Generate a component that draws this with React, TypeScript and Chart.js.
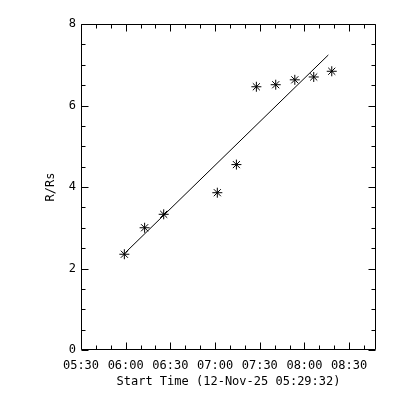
import React, { useEffect, useRef } from "react";
import { Chart, registerables } from "chart.js";

Chart.register(...registerables);

// x values are minutes after 05:30 on 12-Nov-25
const timeLabels = ["05:30", "06:00", "06:30", "07:00", "07:30", "08:00", "08:30"];
const obsMinutes = [29.1, 42.7, 55.5, 91.5, 104.3, 117.7, 130.7, 143.5, 156.2, 168.3];
const heights = [2.35, 3.0, 3.33, 3.86, 4.55, 6.46, 6.51, 6.63, 6.7, 6.84];
const fitMinutes = [29.8, 166.0];
const fitHeights = [2.39, 7.24];
const xMin = 0;
const xMax = 198;
const yMin = 0;
const yMax = 8;

const FONT = '"DejaVu Sans Mono", monospace';

const boxTicks = {
  id: "boxTicks",
  afterDraw(chart: any) {
    const { ctx, chartArea, scales } = chart;
    const { left, right, top, bottom } = chartArea;
    const xs = scales.x;
    const ys = scales.y;
    const L = Math.round(left) + 0.5;
    const R = Math.round(right) - 0.5;
    const T = Math.round(top) + 0.5;
    const B = Math.round(bottom) - 0.5;
    ctx.save();
    ctx.strokeStyle = "#000";
    ctx.lineWidth = 1;
    ctx.beginPath();
    ctx.rect(L, T, R - L, B - T);
    for (let m = xMin; m <= xMax + 0.001; m += 10) {
      const px = Math.round(xs.getPixelForValue(m)) + 0.5;
      const len = m % 30 === 0 ? 7 : 4;
      ctx.moveTo(px, B);
      ctx.lineTo(px, B - len);
      ctx.moveTo(px, T);
      ctx.lineTo(px, T + len);
    }
    for (let v = yMin; v <= yMax + 0.001; v += 0.5) {
      const py = Math.round(ys.getPixelForValue(v)) + 0.5;
      const len = v % 2 === 0 ? 7 : 4;
      ctx.moveTo(L, py);
      ctx.lineTo(L + len, py);
      ctx.moveTo(R, py);
      ctx.lineTo(R - len, py);
    }
    ctx.stroke();
    ctx.restore();
  },
};

export default function App() {
  const ref = useRef<HTMLCanvasElement>(null);
  useEffect(() => {
    if (!ref.current) return;
    const chart = new Chart(ref.current, {
      type: "scatter",
      data: {
        datasets: [
          {
            label: "fit",
            data: fitMinutes.map((m, i) => ({ x: m, y: fitHeights[i] })),
            showLine: true,
            borderColor: "#000",
            borderWidth: 1,
            pointRadius: 0,
            fill: false,
          },
          {
            label: "R/Rs",
            data: obsMinutes.map((m, i) => ({ x: m, y: heights[i] })),
            showLine: false,
            pointStyle: "star",
            pointRadius: 5,
            borderColor: "#000",
            backgroundColor: "#000",
            borderWidth: 1,
          },
        ],
      },
      options: {
        responsive: false,
        animation: false,
        layout: { padding: { left: 0, top: 24, right: 24, bottom: 0 } },
        plugins: { legend: { display: false }, tooltip: { enabled: false } },
        scales: {
          x: {
            type: "linear",
            min: xMin,
            max: xMax,
            grid: { display: false, drawTicks: false },
            border: { display: false },
            ticks: {
              stepSize: 30,
              includeBounds: false,
              autoSkip: false,
              maxRotation: 0,
              padding: 9,
              color: "#000",
              font: { family: FONT, size: 12 },
              callback: (v: any) => {
                const n = Number(v);
                return n % 30 === 0 ? timeLabels[n / 30] ?? "" : "";
              },
            },
            title: {
              display: true,
              text: "Start Time (12-Nov-25 05:29:32)",
              color: "#000",
              font: { family: FONT, size: 12 },
              padding: { top: 0, bottom: 11 },
            },
            afterFit: (s: any) => {
              s.height = 50;
            },
          },
          y: {
            min: yMin,
            max: yMax,
            grid: { display: false, drawTicks: false },
            border: { display: false },
            ticks: {
              stepSize: 2,
              padding: 5,
              color: "#000",
              font: { family: FONT, size: 12 },
            },
            title: {
              display: true,
              text: "R/Rs",
              color: "#000",
              font: { family: FONT, size: 12 },
              padding: { top: 44, bottom: 0 },
            },
            afterFit: (s: any) => {
              s.width = 81;
            },
          },
        },
      },
      plugins: [boxTicks],
    });
    return () => chart.destroy();
  }, []);
  return (
    <div style={{ position: "absolute", left: 0, top: 0, width: 400, height: 400, background: "#fff" }}>
      <canvas ref={ref} width={400} height={400} />
    </div>
  );
}
